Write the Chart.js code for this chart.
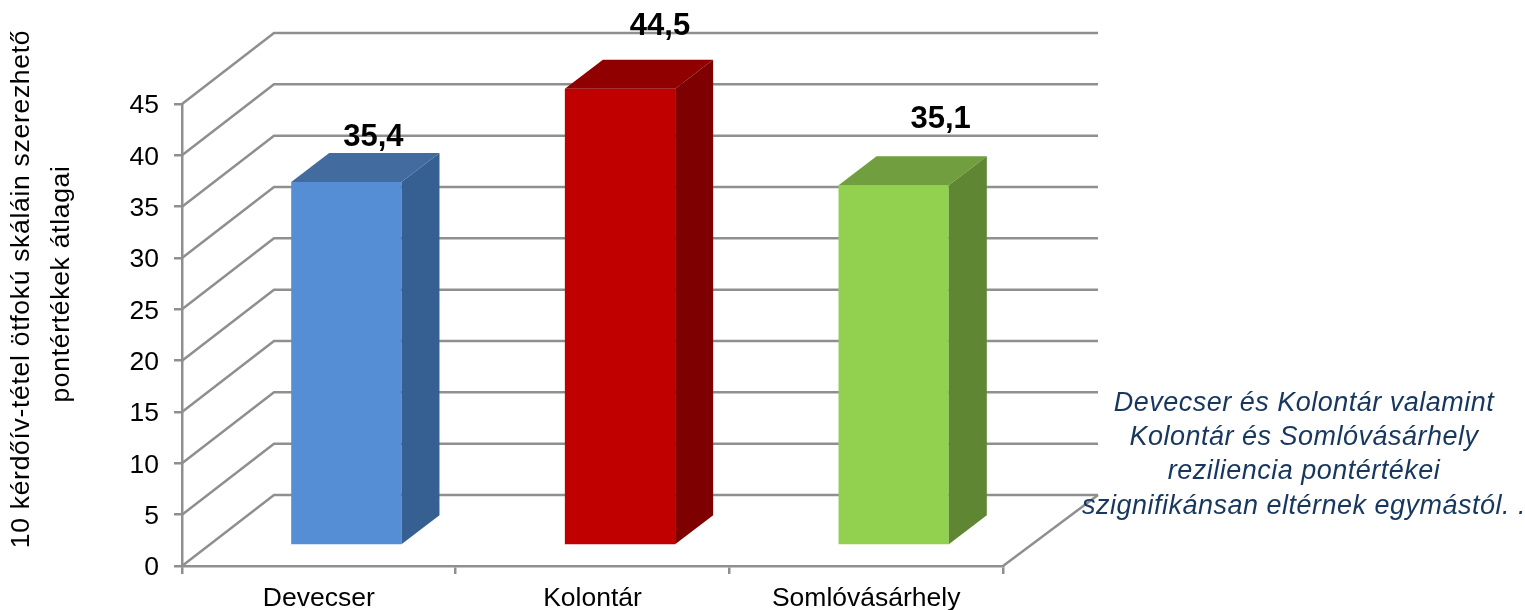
<!DOCTYPE html>
<html>
<head>
<meta charset="utf-8">
<style>
  html, body { margin: 0; padding: 0; background: #fff; }
  canvas { display: block; }
</style>
</head>
<body>
<canvas id="chart" width="1525" height="610"></canvas>
<script src="https://cdn.jsdelivr.net/npm/chart.js@4"></script>
<script>
const categories = ['Devecser', 'Kolontár', 'Somlóvásárhely'];
const values = [35.4, 44.5, 35.1];
const valueLabels = ['35,4', '44,5', '35,1'];
const axisTitle = ['10 kérdőív-tétel ötfokú skáláin szerezhető', 'pontértékek átlagai'];
const note = [
    'Devecser és Kolontár valamint',
    'Kolontár és Somlóvásárhely',
    'reziliencia pontértékei',
    'szignifikánsan eltérnek egymástól. .',
];

// front, side, top colours of each bar
const frontColors = ['#558ed5', '#c00000', '#92d050'];
const sideColors = ['#376092', '#7f0000', '#5f8733'];
const topColors = ['#426ca0', '#900000', '#719f3f'];

const GRID = '#8f8f8f';
const FONT = '"Liberation Sans", Arial, sans-serif';

// ── 3D look: wall depth and bar depth, in px ─
const wall = { dx: 92, dy: -71, extra: 3 };
const barFront = { dx: 27.5, dy: -20.5 };
const barDepth = { dx: 38, dy: -29 };
// hand placed data labels, relative to the back edge of the bar top
const labelShift = [{ x: 8, y: -16 }, { x: 21, y: -33.5 }, { x: 28, y: -37 }];

function poly(ctx, pts, fill) {
    ctx.beginPath();
    pts.forEach(([x, y], i) => (i ? ctx.lineTo(x, y) : ctx.moveTo(x, y)));
    ctx.closePath();
    ctx.fillStyle = fill;
    ctx.fill();
}

const fake3d = {
    id: 'fake3d',
    beforeDatasetsDraw(chart) {
        const { ctx, scales: { x, y } } = chart;
        const left = x.left, right = x.right;
        ctx.save();
        ctx.strokeStyle = GRID;
        ctx.lineWidth = 2.5;
        y.ticks.forEach(t => {
            const py = y.getPixelForValue(t.value);
            ctx.beginPath();
            ctx.moveTo(left, py);
            ctx.lineTo(left + wall.dx, py + wall.dy);
            ctx.lineTo(right + wall.dx + wall.extra, py + wall.dy);
            ctx.stroke();
        });
        // right edge of the floor
        const y0 = y.getPixelForValue(0);
        ctx.beginPath();
        ctx.moveTo(right, y0);
        ctx.lineTo(right + wall.dx + wall.extra, y0 + wall.dy);
        ctx.stroke();
        ctx.restore();

        // the library draws the front faces, moved back onto the floor
        ctx.save();
        ctx.translate(barFront.dx, barFront.dy);
    },
    afterDatasetsDraw(chart) {
        const { ctx } = chart;
        ctx.restore();

        chart.getDatasetMeta(0).data.forEach((bar, i) => {
            const x1 = bar.x - bar.width / 2 + barFront.dx;
            const x2 = bar.x + bar.width / 2 + barFront.dx;
            const top = bar.y + barFront.dy;
            const base = bar.base + barFront.dy;
            const bx = barDepth.dx, by = barDepth.dy;
            poly(ctx, [[x1, top], [x2, top], [x2 + bx, top + by], [x1 + bx, top + by]], topColors[i]);
            poly(ctx, [[x2, top], [x2 + bx, top + by], [x2 + bx, base + by], [x2, base]], sideColors[i]);

            ctx.save();
            ctx.fillStyle = '#000';
            ctx.font = 'bold 31px ' + FONT;
            ctx.textAlign = 'center';
            ctx.textBaseline = 'middle';
            ctx.fillText(valueLabels[i], (x1 + x2) / 2 + bx / 2 + labelShift[i].x, top + by + labelShift[i].y);
            ctx.restore();
        });
    },
    afterDraw(chart) {
        const { ctx } = chart;
        ctx.save();
        ctx.fillStyle = '#000';
        ctx.font = '26.5px ' + FONT;
        ctx.letterSpacing = '0.7px';
        ctx.textAlign = 'center';
        ctx.textBaseline = 'middle';
        [[22, 289], [62, 284]].forEach(([px, py], i) => {
            ctx.save();
            ctx.translate(px, py);
            ctx.rotate(-Math.PI / 2);
            ctx.fillText(axisTitle[i], 0, 0);
            ctx.restore();
        });

        ctx.fillStyle = '#17375e';
        ctx.font = 'italic 27px ' + FONT;
        ctx.letterSpacing = '0.5px';
        note.forEach((line, i) => ctx.fillText(line, 1304, 403 + i * 34.4));
        ctx.restore();
    },
};

new Chart(document.getElementById('chart'), {
    type: 'bar',
    data: {
        labels: categories,
        datasets: [{
            data: values,
            backgroundColor: frontColors,
            barPercentage: 0.403,
            categoryPercentage: 1,
            clip: false,
        }],
    },
    options: {
        responsive: false,
        animation: false,
        layout: { padding: { top: 104, right: 522 } },
        plugins: { legend: { display: false }, title: { display: false }, tooltip: { enabled: false } },
        scales: {
            x: {
                afterFit: s => { s.height = 44; },
                border: { color: GRID, width: 2.5 },
                grid: { drawOnChartArea: false, color: GRID, lineWidth: 2.5, tickLength: 8 },
                ticks: { color: '#000', font: { family: FONT, size: 26.5 }, padding: 9, maxRotation: 0 },
            },
            y: {
                min: 0,
                max: 45,
                afterFit: s => { s.width = 182; },
                border: { color: GRID, width: 2.5 },
                grid: { drawOnChartArea: false, color: GRID, lineWidth: 2.5, tickLength: 8 },
                ticks: { stepSize: 5, color: '#000', font: { family: FONT, size: 26.5 }, padding: 15, labelOffset: 2 },
            },
        },
    },
    plugins: [fake3d],
});
</script>
</body>
</html>
